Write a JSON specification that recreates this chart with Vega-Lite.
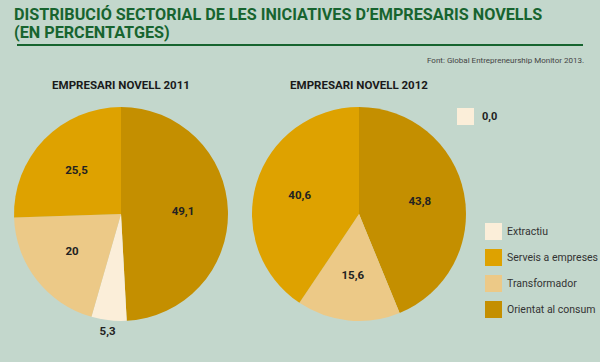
{
  "$schema": "https://vega.github.io/schema/vega-lite/v6.json",
  "background": "#c3d7cc",
  "padding": {"left": 14, "right": 17, "top": 6, "bottom": 30},
  "config": {
    "view": {"stroke": null},
    "locale": {"number": {"decimal": ",", "thousands": ".", "grouping": [3], "currency": ["", " €"]}},
    "font": "Roboto"
  },
  "title": {
    "text": ["DISTRIBUCIÓ SECTORIAL DE LES INICIATIVES D’EMPRESARIS NOVELLS", "(EN PERCENTATGES)"],
    "anchor": "start",
    "font": "Roboto",
    "fontSize": 16.2,
    "lineHeight": 18,
    "fontWeight": "bold",
    "color": "#17642f",
    "offset": 2
  },
  "datasets": {
    "d": [
      {"year": 2011, "sector": "Orientat al consum", "value": 49.1},
      {"year": 2011, "sector": "Extractiu", "value": 5.3},
      {"year": 2011, "sector": "Transformador", "value": 20},
      {"year": 2011, "sector": "Serveis a empreses", "value": 25.5},
      {"year": 2012, "sector": "Orientat al consum", "value": 43.8},
      {"year": 2012, "sector": "Extractiu", "value": 0},
      {"year": 2012, "sector": "Transformador", "value": 15.6},
      {"year": 2012, "sector": "Serveis a empreses", "value": 40.6}
    ]
  },
  "spacing": 14,
  "vconcat": [
    {
      "width": 566,
      "height": 2,
      "data": {"values": [{"a": 0}]},
      "title": {
        "text": "Font: Global Entrepreneurship Monitor 2013.",
        "orient": "bottom",
        "anchor": "end",
        "fontSize": 8,
        "fontWeight": "normal",
        "color": "#444444",
        "offset": 11
      },
      "mark": {"type": "rule", "color": "#17642f", "strokeWidth": 2},
      "encoding": {
        "y": {"datum": 0, "type": "quantitative", "axis": null, "scale": {"domain": [0, 1]}}
      }
    },
    {
      "spacing": 30,
      "bounds": "flush",
      "hconcat": [
        {
          "width": 208,
          "height": 216,
          "title": {"text": "EMPRESARI NOVELL 2011", "fontSize": 11.5, "fontWeight": "bold", "color": "#1a1a1a", "offset": 15},
          "data": {"name": "d"},
          "transform": [
            {"filter": "datum.year == 2011"},
            {"calculate": "indexof(['Orientat al consum','Extractiu','Transformador','Serveis a empreses'], datum.sector)", "as": "ord"}
          ],
          "encoding": {
            "theta": {"field": "value", "type": "quantitative", "stack": true},
            "order": {"field": "ord", "type": "quantitative"}
          },
          "layer": [
            {
              "mark": {"type": "arc", "outerRadius": 107},
              "encoding": {
                "color": {
                  "field": "sector", "type": "nominal",
                  "scale": {"domain": ["Extractiu", "Serveis a empreses", "Transformador", "Orientat al consum"],
                            "range": ["#fbeed9", "#dea200", "#ecc987", "#c48f00"]},
                  "legend": {
                    "title": null, "orient": "none", "legendX": 468, "legendY": 180,
                    "symbolType": "square", "symbolSize": 289, "symbolStrokeWidth": 0,
                    "labelFontSize": 10.5, "labelColor": "#333333", "rowPadding": 9, "labelOffset": 5
                  }
                }
              }
            },
            {
              "mark": {"type": "text", "radius": 62, "fontSize": 11.5, "fontWeight": "bold", "color": "#222222"},
              "encoding": {
                "text": {"condition": {"test": "datum.value < 10", "value": ""}, "field": "value", "type": "quantitative", "format": ".1~f"}
              }
            },
            {
              "mark": {"type": "text", "radius": 119, "fontSize": 11.5, "fontWeight": "bold", "color": "#222222"},
              "encoding": {
                "text": {"condition": {"test": "datum.value >= 10", "value": ""}, "field": "value", "type": "quantitative", "format": ".1~f"}
              }
            }
          ]
        },
        {
          "width": 208,
          "height": 216,
          "title": {"text": "EMPRESARI NOVELL 2012", "fontSize": 11.5, "fontWeight": "bold", "color": "#1a1a1a", "offset": 15},
          "data": {"name": "d"},
          "transform": [
            {"filter": "datum.year == 2012"},
            {"calculate": "indexof(['Orientat al consum','Extractiu','Transformador','Serveis a empreses'], datum.sector)", "as": "ord"}
          ],
          "layer": [
            {
              "transform": [{"filter": "datum.value == 0"}],
              "mark": {"type": "point", "shape": "square", "filled": true, "color": "#fbeed9", "size": 100},
              "encoding": {
                "shape": {
                  "field": "value", "type": "nominal",
                  "scale": {"range": ["square"]},
                  "legend": {
                    "title": null, "orient": "none", "legendX": 440, "legendY": 65,
                    "symbolSize": 289, "symbolFillColor": "#fbeed9", "symbolStrokeWidth": 0, "symbolOpacity": 1,
                    "labelExpr": "format(toNumber(datum.value), '.1f')",
                    "labelFontSize": 11, "labelFontWeight": "bold", "labelColor": "#222222", "labelOffset": 8
                  }
                }
              }
            },
            {
              "mark": {"type": "arc", "outerRadius": 107},
              "encoding": {
                "theta": {"field": "value", "type": "quantitative", "stack": true},
                "order": {"field": "ord", "type": "quantitative"},
                "color": {"field": "sector", "type": "nominal"}
              }
            },
            {
              "mark": {"type": "text", "radius": 62, "fontSize": 11.5, "fontWeight": "bold", "color": "#222222"},
              "encoding": {
                "theta": {"field": "value", "type": "quantitative", "stack": true},
                "order": {"field": "ord", "type": "quantitative"},
                "text": {"condition": {"test": "datum.value < 10", "value": ""}, "field": "value", "type": "quantitative", "format": ".1~f"}
              }
            }
          ]
        }
      ]
    }
  ]
}
